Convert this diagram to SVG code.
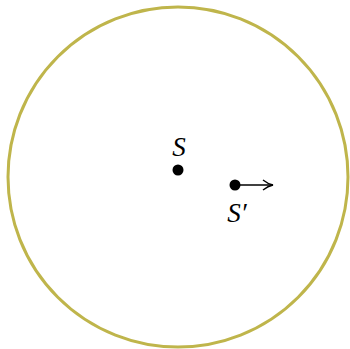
<svg xmlns="http://www.w3.org/2000/svg" width="350" height="349" viewBox="0 0 350 349">
<style>
.lbl{font-family:"Liberation Serif","DejaVu Serif",serif;font-style:italic;font-size:27px;fill:#000;text-anchor:middle}
.dot{fill:#000}
</style>
<defs>
<marker id="arr" viewBox="0 0 12 12" refX="11" refY="6" markerWidth="12" markerHeight="12" markerUnits="userSpaceOnUse" orient="auto">
<path d="M1,1 Q6,5 11,6 Q6,7 1,11" fill="none" stroke="#000" stroke-width="1.4"/>
</marker>
</defs>
<rect width="350" height="349" fill="#fff"/>
<g id="circle"><circle cx="178" cy="177" r="170" fill="none" stroke="#BFB54B" stroke-width="3"/></g>
<g id="S"><circle class="dot" cx="178" cy="170" r="5.5"/><text class="lbl" x="179" y="156">S</text></g>
<g id="Sprime"><circle class="dot" cx="235" cy="185" r="5.5"/><text class="lbl" x="237" y="222">S′</text></g>
<g id="connectors"><line x1="240" y1="185" x2="273" y2="185" stroke="#000" stroke-width="1.5" marker-end="url(#arr)"/></g>
</svg>
